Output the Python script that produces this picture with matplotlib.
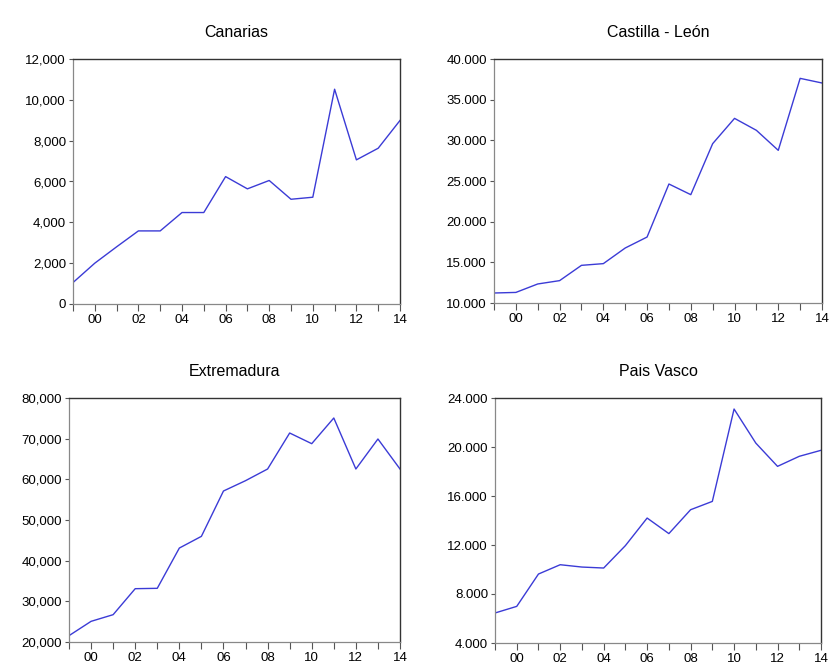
import matplotlib
matplotlib.use("Agg")
import matplotlib.pyplot as plt
from matplotlib.ticker import FuncFormatter, MultipleLocator, FixedLocator

plt.rcParams['font.family'] = ['Liberation Sans', 'DejaVu Sans']

years = list(range(1999, 2015))
year_ticks = [2000, 2002, 2004, 2006, 2008, 2010, 2012, 2014]
year_labels = ["00", "02", "04", "06", "08", "10", "12", "14"]

canarias = [1050, 2000, 2800, 3580, 3580, 4480, 4480, 6240, 5640, 6050,
            5130, 5230, 10520, 7060, 7630, 8990]
castilla_leon = [11230, 11300, 12340, 12750, 14630, 14840, 16760, 18110, 24630,
                 23320, 29590, 32700, 31230, 28770, 37620, 37050]
extremadura = [21560, 25080, 26720, 33110, 33200, 43100, 45980, 57130, 59670,
               62540, 71390, 68770, 75080, 62540, 69920, 62540]
pais_vasco = [6450, 6990, 9630, 10390, 10200, 10120, 11950, 14200, 12930,
              14880, 15560, 23100, 20320, 18420, 19240, 19730]

titles = ["Canarias", "Castilla - León", "Extremadura", "Pais Vasco"]
series = [canarias, castilla_leon, extremadura, pais_vasco]
ylims = [(0, 12000), (10000, 40000), (20000, 80000), (4000, 24000)]
ysteps = [2000, 5000, 10000, 4000]
seps = [",", ".", ",", "."]

positions = [
    [73/833, 1-304/664, (400-73)/833, (304-59)/664],
    [494/833, 1-303/664, (822-494)/833, (303-59)/664],
    [69/833, 1-642/664, (400-69)/833, (642-398)/664],
    [495/833, 1-643/664, (821-495)/833, (643-398)/664],
]

fig = plt.figure(figsize=(8.33, 6.64), dpi=100)
for pos, title, vals, yl, st, sep in zip(positions, titles, series, ylims, ysteps, seps):
    ax = fig.add_axes(pos)
    ax.plot(years, vals, color='#3b3bd6', linewidth=1.0)
    ax.set_xlim(1999, 2014)
    ax.set_ylim(*yl)
    ax.yaxis.set_major_locator(MultipleLocator(st))
    ax.yaxis.set_major_formatter(FuncFormatter(
        lambda v, p, s=sep: f"{int(v):,}".replace(",", s)))
    ax.xaxis.set_major_locator(FixedLocator(year_ticks))
    ax.xaxis.set_minor_locator(FixedLocator([y for y in years if y not in year_ticks]))
    ax.set_xticklabels(year_labels)
    ax.tick_params(axis='x', which='both', direction='out', length=5, width=0.8,
                   color='#555555', labelsize=9.5, pad=2)
    ax.tick_params(axis='y', which='major', direction='out', length=3, width=0.8,
                   color='#555555', labelsize=9.5, pad=2)
    for sp in ['left', 'bottom']:
        ax.spines[sp].set_color('#888888')
        ax.spines[sp].set_linewidth(0.9)
    for sp in ['top', 'right']:
        ax.spines[sp].set_color('#333333')
        ax.spines[sp].set_linewidth(1.0)
    ax.set_title(title, fontsize=11.5, pad=16)

fig.savefig("out.png", dpi=100)
